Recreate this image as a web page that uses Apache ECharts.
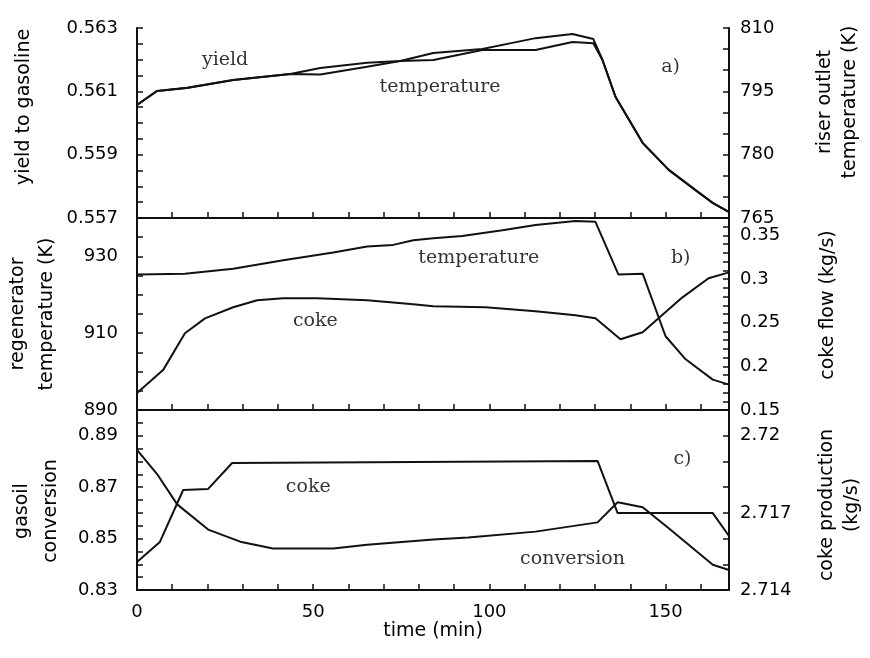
<!DOCTYPE html>
<html>
<head>
<meta charset="utf-8">
<title>Riser / regenerator response</title>
<script src="https://cdn.jsdelivr.net/npm/echarts@6.0.0/dist/echarts.min.js"></script>
<style>
  html, body { margin: 0; padding: 0; background: #fff; }
  #main { width: 870px; height: 658px; }
</style>
</head>
<body>
<div id="main"></div>
<script>
// shared time axis (min)
var timeMax = 168;
var timeLabels = [0, 50, 100, 150];

// a) yield to gasoline (left) and riser outlet temperature in K (right)
var yieldTime = [0, 5.7, 14.2, 27.3, 43.5, 52, 65.3, 74.7, 84.1, 98, 106.5, 113.1, 123.6, 129.5, 132.1, 135.8, 143.5, 150.9, 158.5, 163.4, 168];
var yieldValue = [0.56057, 0.56101, 0.56111, 0.56136, 0.56155, 0.56174, 0.5619, 0.56196, 0.56221, 0.56234, 0.56253, 0.56268, 0.56281, 0.56265, 0.56199, 0.56082, 0.55937, 0.55852, 0.55788, 0.55747, 0.55719];
var riserTime = [0, 5.7, 14.2, 27.3, 43.5, 52, 65.3, 74.7, 84.1, 98, 113.1, 123.6, 129.5, 132.1, 135.8, 143.5, 150.9, 158.5, 163.4, 168];
var riserTemp = [791.8, 795.1, 795.8, 797.7, 799.1, 799.0, 800.8, 802.2, 802.4, 804.8, 804.8, 806.7, 806.4, 802.4, 793.7, 782.8, 776.4, 771.6, 768.6, 766.4];
var yieldTicks = [0.557, 0.559, 0.561, 0.563];
var riserTicks = [765, 780, 795, 810];

// b) regenerator temperature in K (left) and coke flow in kg/s (right)
var regenTime = [0, 13.6, 27.3, 41.5, 55.7, 65.3, 72.7, 78.4, 84.1, 92.3, 103.7, 113.1, 124.4, 130.1, 136.6, 143.5, 150, 155.7, 163.4, 168];
var regenTemp = [925.3, 925.5, 926.8, 929, 931, 932.6, 933, 934.2, 934.7, 935.3, 936.8, 938.2, 939.2, 939, 925.3, 925.5, 909.2, 903.2, 897.9, 896.6];
var flowTime = [0, 7.4, 13.6, 19.3, 27.3, 34.1, 41.5, 51.1, 65.3, 78.4, 84.1, 98.9, 113.1, 124.4, 130.1, 137.2, 143.5, 148, 154.8, 162.2, 168];
var flowValue = [0.1694, 0.1957, 0.238, 0.255, 0.2677, 0.2757, 0.278, 0.278, 0.2757, 0.2711, 0.2689, 0.2677, 0.2631, 0.2586, 0.2551, 0.2311, 0.2391, 0.2551, 0.2791, 0.3009, 0.3077];
var regenTicks = [890, 910, 930];
var flowTicks = [0.15, 0.2, 0.25, 0.3, 0.35];

// c) gasoil conversion (left) and coke production in kg/s (right)
var convTime = [0, 5.7, 11.4, 20.2, 29.3, 38.6, 55.7, 65.3, 84.1, 94, 113.1, 130.7, 136.4, 143.5, 150.9, 163.4, 168];
var convValue = [0.8845, 0.8751, 0.8633, 0.8535, 0.8488, 0.8461, 0.8461, 0.8476, 0.8496, 0.8504, 0.8527, 0.8563, 0.8641, 0.8622, 0.854, 0.8398, 0.8378];
var prodTime = [0, 6.5, 13.1, 20.2, 27, 130.7, 136.4, 163.4, 168];
var prodValue = [2.71509, 2.71587, 2.71789, 2.71793, 2.71894, 2.71902, 2.71699, 2.71699, 2.7161];
var convTicks = [0.83, 0.85, 0.87, 0.89];
var prodTicks = [2.714, 2.717, 2.72];

// in-plot notes: [text, time, left-axis value]
var notesA = [['yield', 25, 0.5620], ['temperature', 86, 0.56114], ['a)', 151.4, 0.56177]];
var notesB = [['temperature', 97, 929.5], ['b)', 154.3, 929.5], ['coke', 50.6, 913.2]];
var notesC = [['coke', 48.6, 0.870], ['c)', 154.8, 0.881], ['conversion', 123.6, 0.8422]];

var ink = '#111';
var sans = 'DejaVu Sans';
var serif = 'DejaVu Serif';

var chart = echarts.init(document.getElementById('main'));

function pairs(ts, vs) {
  return ts.map(function (t, i) { return [t, vs[i]]; });
}

function fmt(v) {
  return String(+v.toFixed(4));
}

function timeAxis(grid, last) {
  return {
    type: 'value',
    gridIndex: grid,
    min: 0,
    max: timeMax,
    interval: 10,
    axisLine: { onZero: false, lineStyle: { color: ink, width: 2 } },
    axisTick: { inside: true, length: 6, lineStyle: { color: ink, width: 1.5 } },
    axisLabel: {
      show: last,
      customValues: timeLabels,
      margin: 13,
      color: '#000',
      fontFamily: sans,
      fontSize: 18
    },
    splitLine: { show: false },
    name: last ? 'time (min)' : '',
    nameLocation: 'middle',
    nameGap: 30,
    nameTextStyle: { color: '#000', fontFamily: sans, fontSize: 19 }
  };
}

function valueAxis(grid, side, min, max, step, ticks, name, gap, lh, pad) {
  return {
    type: 'value',
    gridIndex: grid,
    position: side,
    min: min,
    max: max,
    interval: step,
    axisLine: { show: true, lineStyle: { color: ink, width: 2 } },
    axisTick: { show: true, inside: true, length: 6, lineStyle: { color: ink, width: 1.5 } },
    axisLabel: {
      customValues: ticks,
      formatter: fmt,
      margin: side === 'left' ? 19 : 11,
      color: '#000',
      fontFamily: sans,
      fontSize: 18
    },
    splitLine: { show: false },
    name: name,
    nameLocation: 'middle',
    nameRotate: 90,
    nameGap: gap,
    nameTextStyle: {
      color: '#000',
      fontFamily: sans,
      fontSize: 19,
      lineHeight: lh,
      padding: pad
    }
  };
}

function curve(xi, yi, data) {
  return {
    type: 'line',
    xAxisIndex: xi,
    yAxisIndex: yi,
    symbol: 'none',
    silent: true,
    lineStyle: { color: ink, width: 2 },
    data: data
  };
}

function notes(xi, yi, items) {
  return {
    type: 'scatter',
    xAxisIndex: xi,
    yAxisIndex: yi,
    symbolSize: 1,
    silent: true,
    itemStyle: { color: 'rgba(0,0,0,0)' },
    label: {
      show: true,
      position: 'inside',
      formatter: '{b}',
      color: '#000',
      fontFamily: serif,
      fontSize: 19
    },
    data: items.map(function (n) { return { name: n[0], value: [n[1], n[2]] }; })
  };
}

var option = {
  backgroundColor: '#fff',
  animation: false,
  grid: [
    { left: 137, right: 141, top: 28, height: 190, containLabel: false, outerBoundsMode: 'none' },
    { left: 137, right: 141, top: 218, height: 192, containLabel: false, outerBoundsMode: 'none' },
    { left: 137, right: 141, top: 410, height: 180, containLabel: false, outerBoundsMode: 'none' }
  ],
  xAxis: [timeAxis(0, false), timeAxis(1, false), timeAxis(2, true)],
  yAxis: [
    valueAxis(0, 'left', 0.557, 0.563, 0.0005, yieldTicks, 'yield to gasoline', 103, 19, [0, 0, 0, 32]),
    valueAxis(0, 'right', 765, 810, 5, riserTicks, 'riser outlet\ntemperature (K)', 84, 25, [0, 0, 0, 42]),
    valueAxis(1, 'left', 890, 940, 5, regenTicks, 'regenerator\ntemperature (K)', 75, 29, [0, 0, 0, 0]),
    valueAxis(1, 'right', 0.15, 0.37, 0.01, flowTicks, 'coke flow (kg/s)', 90, 19, [0, 0, 0, 18]),
    valueAxis(2, 'left', 0.83, 0.9, 0.005, convTicks, 'gasoil\nconversion', 71, 29, [0, 22, 0, 0]),
    valueAxis(2, 'right', 2.714, 2.721, 0.001, prodTicks, 'coke production\n(kg/s)', 86, 25, [0, 10, 0, 0])
  ],
  series: [
    curve(0, 0, pairs(yieldTime, yieldValue)),
    curve(0, 1, pairs(riserTime, riserTemp)),
    curve(1, 2, pairs(regenTime, regenTemp)),
    curve(1, 3, pairs(flowTime, flowValue)),
    curve(2, 4, pairs(convTime, convValue)),
    curve(2, 5, pairs(prodTime, prodValue)),
    notes(0, 0, notesA),
    notes(1, 2, notesB),
    notes(2, 4, notesC)
  ]
};

chart.setOption(option);
</script>
</body>
</html>
